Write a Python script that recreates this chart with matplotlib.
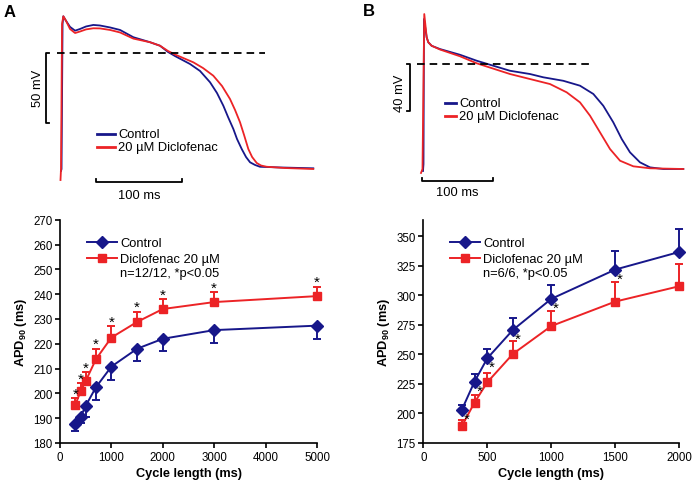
import matplotlib
matplotlib.use("Agg")
import matplotlib.pyplot as plt
from matplotlib.lines import Line2D

plt.rcParams['font.family'] = ['Liberation Sans', 'DejaVu Sans']
plt.rcParams['mathtext.fontset'] = 'custom'
plt.rcParams['mathtext.rm'] = 'Liberation Sans'
plt.rcParams['mathtext.bf'] = 'Liberation Sans:bold'
plt.rcParams['mathtext.it'] = 'Liberation Sans:italic'

NAVY = '#17178a'
RED = '#ec2326'

# ---------------- Action potential traces (ms, mV) ----------------
a_ctrl_t = [-0.6, 0, 1.2, 2.1, 5.3, 9.9, 15.8, 21.6, 28.6, 37.1, 44.9, 56.6, 68.3, 83.8, 103.3,
            114.9, 124.3, 132.4, 149.9, 161.6, 173.3, 181.4, 188.8, 194.3, 200.5, 204.8, 210.3,
            215.3, 220.0, 225.8, 231.6, 255.0, 293.8]
a_ctrl_v = [-84.6, -83.2, 20.8, 26.3, 23.0, 18.7, 16.0, 17.2, 19.0, 20.1, 19.7, 18.3, 16.5, 11.3, 7.7,
            5.2, 0.7, -2.2, -7.9, -12.9, -21.0, -28.7, -37.8, -45.9, -54.5, -61.7, -68.9,
            -74.6, -78.4, -80.3, -81.6, -82.1, -82.7]
a_dic_t = [-1.2, -0.6, 0.6, 2.1, 5.3, 9.9, 15.8, 21.6, 28.6, 37.1, 44.9, 56.6, 68.3, 83.8, 103.3,
           114.9, 124.3, 132.4, 153.8, 165.1, 177.1, 187.3, 196.6, 202.5, 208.3, 213.0, 218.0,
           222.4, 227.8, 232.8, 239.4, 260.8, 293.8]
a_dic_v = [-91.1, -83.2, 20.8, 26.3, 23.0, 17.2, 14.3, 15.4, 16.9, 17.7, 17.6, 16.5, 14.7, 10.3, 7.7,
           5.2, 1.4, -1.1, -6.7, -10.8, -16.3, -23.7, -33.0, -40.9, -49.7, -58.8, -68.9,
           -74.6, -78.9, -80.7, -81.6, -82.5, -83.2]

b_ctrl_t = [-1.4, -0.7, 0, 3.8, 6.1, 10.8, 22.5, 50.7, 74.2, 121.1, 149.3, 168.0, 196.2, 219.7,
            238.5, 252.5, 266.6, 278.5, 290.1, 304.2, 318.3, 337.0, 365.2]
b_ctrl_v = [-91.4, -85.4, 38.8, 23.1, 18.9, 15.9, 13.1, 8.2, 3.1, -5.5, -8.3, -11.1, -14.1, -18.3,
            -25.4, -35.5, -49.7, -64.0, -75.4, -84.0, -88.3, -89.7, -89.7]
b_dic_t = [-4.2, -2.1, 0.4, 3.8, 6.1, 10.8, 22.5, 50.7, 74.2, 121.1, 149.3, 177.5, 201.0, 219.7,
           233.8, 247.9, 262.0, 276.1, 294.8, 318.3, 365.2]
b_dic_v = [-93.1, -89.7, 43.1, 23.1, 18.9, 15.9, 12.7, 6.9, 0.9, -8.3, -12.6, -16.9, -24.0, -32.6,
           -44.0, -58.3, -72.6, -82.6, -87.4, -89.1, -89.7]

# ---------------- APD90 vs cycle length ----------------
a_cl = [300, 400, 500, 700, 1000, 1500, 2000, 3000, 5000]
a_ctrl = [187.5, 190.5, 195.0, 202.5, 210.8, 218.0, 222.0, 225.5, 227.3]
a_ctrl_err = [2.5, 2.5, 4.5, 5.0, 5.3, 5.0, 5.0, 5.0, 5.3]
a_dic = [195.5, 200.8, 205.0, 213.8, 222.5, 228.8, 234.0, 236.8, 239.2]
a_dic_err = [2.5, 3.2, 3.5, 4.2, 4.5, 4.2, 4.0, 4.0, 3.8]

b_cl = [300, 400, 500, 700, 1000, 1500, 2000]
b_ctrl = [202.9, 226.9, 246.7, 270.7, 297.0, 321.8, 336.7]
b_ctrl_err = [4.3, 6.6, 7.6, 10.3, 11.8, 15.8, 19.3]
b_dic = [189.1, 209.2, 226.4, 250.4, 274.0, 294.7, 307.7]
b_dic_err = [5.7, 6.7, 8.2, 11.0, 13.0, 16.6, 18.6]
b_sig = [300, 400, 500, 700, 1000, 1500]

a_xticks = [0, 1000, 2000, 3000, 4000, 5000]
a_yticks = [180, 190, 200, 210, 220, 230, 240, 250, 260, 270]
b_xticks = [0, 500, 1000, 1500, 2000]
b_yticks = [175, 200, 225, 250, 275, 300, 325, 350]

W, H = 697, 489
fig = plt.figure(figsize=(W / 100, H / 100), dpi=100)

FS = 9.3

def fig_axes(x0, y0, x1, y1):
    return fig.add_axes([x0 / W, 1 - y1 / H, (x1 - x0) / W, (y1 - y0) / H])

# ---- Panel A traces ----
axA = fig_axes(0, 0, 345, 205)
axA.set_xlim(-71.8, 330.8)
axA.set_ylim(-108.3, 38.7)
axA.axis('off')
axA.plot(a_ctrl_t, a_ctrl_v, color=NAVY, lw=1.3)
axA.plot(a_dic_t, a_dic_v, color=RED, lw=1.3)
axA.plot([-5.3, 237.5], [0, 0], color='black', lw=1.3, ls=(0, (4.2, 2.8)))
axA.plot([-14.5, -18.5, -18.5, -14.5], [0, 0, -50, -50], color='black', lw=1.3)
axA.text(-27.4, -25, '50 mV', rotation=90, ha='center', va='center', fontsize=FS)
axA.plot([40.3, 40.3, 140.3, 140.3], [-90.5, -92.8, -92.8, -90.5], color='black', lw=1.3)
axA.text(90.3, -101.9, '100 ms', ha='center', va='center', fontsize=FS)
axA.plot([41.4, 62.5], [-58.1, -58.1], color=NAVY, lw=2)
axA.plot([41.4, 62.5], [-67.2, -67.2], color=RED, lw=2)
axA.text(65.9, -58.1, 'Control', ha='left', va='center', fontsize=FS)
axA.text(65.9, -67.2, '20 µM Diclofenac', ha='left', va='center', fontsize=FS)

# ---- Panel B traces ----
axB = fig_axes(350, 0, 697, 205)
axB.set_xlim(-104.2, 384.5)
axB.set_ylim(-119.7, 56.0)
axB.axis('off')
axB.plot(b_ctrl_t, b_ctrl_v, color=NAVY, lw=1.3)
axB.plot(b_dic_t, b_dic_v, color=RED, lw=1.3)
axB.plot([-10.3, 233.8], [0, 0], color='black', lw=1.3, ls=(0, (4.2, 2.8)))
axB.plot([-24.4, -19.7, -19.7, -24.4], [0, 0, -40, -40], color='black', lw=1.3)
axB.text(-33.8, -24, '40 mV', rotation=90, ha='center', va='center', fontsize=FS)
axB.plot([-3.2, -3.2, 96.8, 96.8], [-97.2, -99.7, -99.7, -97.2], color='black', lw=1.3)
axB.text(46.8, -109.2, '100 ms', ha='center', va='center', fontsize=FS)
axB.plot([29.6, 45.1], [-33.2, -33.2], color=NAVY, lw=2)
axB.plot([29.6, 45.1], [-44.6, -44.6], color=RED, lw=2)
axB.text(49.7, -33.2, 'Control', ha='left', va='center', fontsize=FS)
axB.text(49.7, -44.6, '20 µM Diclofenac', ha='left', va='center', fontsize=FS)

fig.text(4 / W, 1 - 5 / H, 'A', fontsize=12, fontweight='bold', ha='left', va='top')
fig.text(363 / W, 1 - 4 / H, 'B', fontsize=12, fontweight='bold', ha='left', va='top')

# ---- Bottom plots ----
def style(ax):
    for s in ['top', 'right']:
        ax.spines[s].set_visible(False)
    for s in ['left', 'bottom']:
        ax.spines[s].set_linewidth(1.2)
    ax.tick_params(direction='out', length=3.5, width=1.2, labelsize=8.3, pad=2)
    ax.set_xlabel('Cycle length (ms)', fontsize=9.2, fontweight='bold', labelpad=3)
    ax.set_ylabel(r'APD$_{\mathbf{90}}$ (ms)', fontsize=9.2, fontweight='bold', labelpad=3)

def series(ax, x, y, err, color, marker, ms, lower):
    yerr = [err, [0] * len(err)] if lower else [[0] * len(err), err]
    ax.errorbar(x, y, yerr=yerr, color=color, lw=1.4, marker=marker, ms=ms,
                capsize=2.8, capthick=1.4, elinewidth=1.4, clip_on=False)

ax1 = fig_axes(60, 220.7, 317, 444)
series(ax1, a_cl, a_ctrl, a_ctrl_err, NAVY, 'D', 6.5, True)
series(ax1, a_cl, a_dic, a_dic_err, RED, 's', 6, False)
ax1.set_xlim(0, 5000)
ax1.set_ylim(180, 270)
ax1.set_xticks(a_xticks)
ax1.set_yticks(a_yticks)
style(ax1)
for x, y, e in zip(a_cl, a_dic, a_dic_err):
    ax1.annotate('*', (x, y + e), xytext=(0, -1.8), textcoords='offset points',
                 ha='center', va='bottom', fontsize=11)

ax2 = fig_axes(423.3, 220.7, 679.3, 444)
series(ax2, b_cl, b_dic, b_dic_err, RED, 's', 6, False)
series(ax2, b_cl, b_ctrl, b_ctrl_err, NAVY, 'D', 6.5, False)
ax2.set_xlim(0, 2000)
ax2.set_ylim(175, 364)
ax2.set_xticks(b_xticks)
ax2.set_yticks(b_yticks)
style(ax2)
for x in b_sig:
    y = b_ctrl[b_cl.index(x)]
    ax2.annotate('*', (x, y), xytext=(3.5, -11.5), textcoords='offset points',
                 ha='center', va='bottom', fontsize=11)

handles = [Line2D([], [], color=NAVY, marker='D', ms=6.5, lw=1.4),
           Line2D([], [], color=RED, marker='s', ms=6, lw=1.4)]
for ax, n in [(ax1, 'n=12/12, *p<0.05'), (ax2, 'n=6/6, *p<0.05')]:
    ax.legend(handles, ['Control', 'Diclofenac 20 µM'], loc='upper left',
              bbox_to_anchor=(0.105, 0.922), frameon=False, fontsize=FS,
              handlelength=2.3, handletextpad=0.25, labelspacing=0.32,
              borderpad=0, borderaxespad=0)
    ax.text(0.234, 0.762, n, transform=ax.transAxes, ha='left', va='center', fontsize=FS)

fig.savefig('out.png', dpi=100)
